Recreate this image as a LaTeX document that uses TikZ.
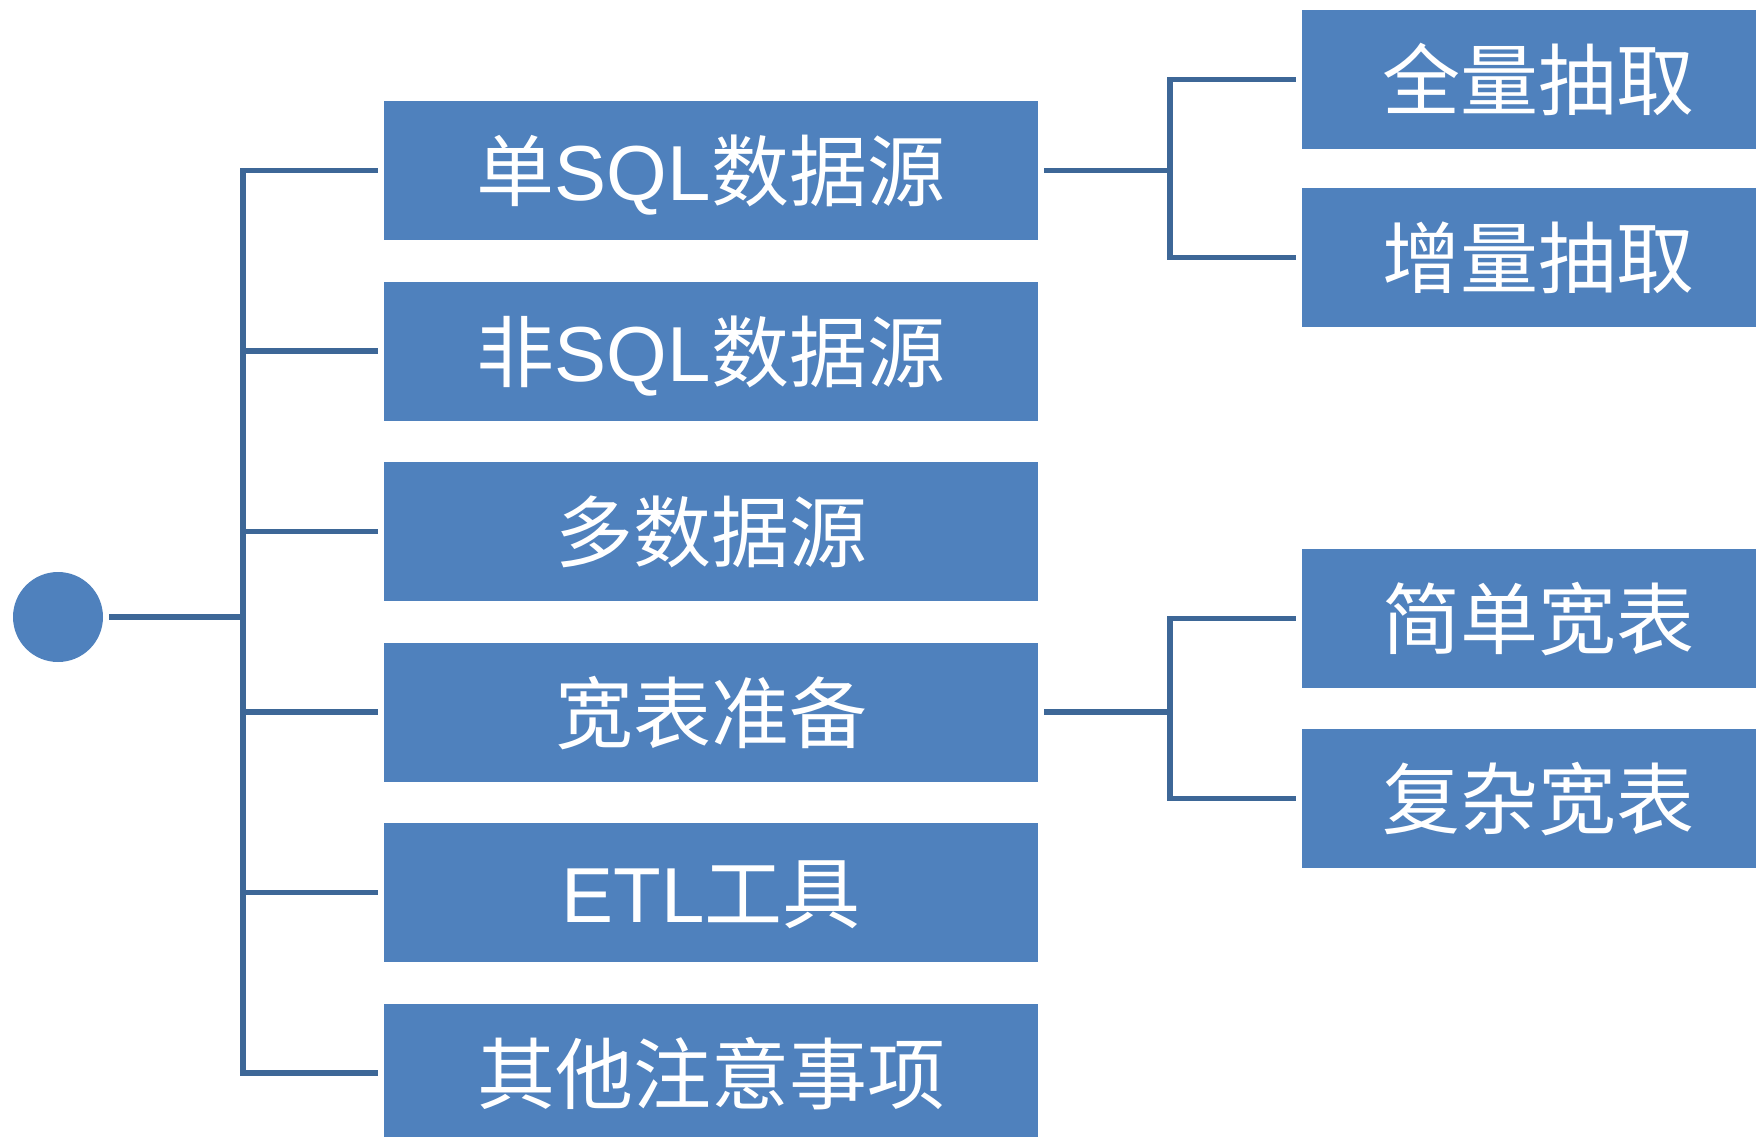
\documentclass[tikz,border=0pt]{standalone}
\usepackage{fontspec}
\newfontfamily\cjk{Noto Sans CJK SC}
\newfontfamily\latfont{Liberation Sans}
\newcommand\lat[1]{{\latfont #1}}
\definecolor{boxblue}{HTML}{4F81BD}
\definecolor{lineblue}{HTML}{3D6797}
\begin{document}
\begin{tikzpicture}[x=1pt,y=-1pt,
  box/.style={rectangle, fill=boxblue, inner sep=0pt, minimum height=139pt,
    text=white, font=\cjk\fontsize{78}{78}\selectfont, text height=65pt, text depth=5pt},
  lbox/.style={box, minimum width=654pt},
  rbox/.style={box, minimum width=472pt},
  conn/.style={draw=lineblue, line width=5.5pt, shorten <=6pt, shorten >=6pt}]
\useasboundingbox (0,0) rectangle (1756,1137);
\node[circle, fill=boxblue, minimum size=90pt, inner sep=0pt] (root) at (58,617) {};
\node[lbox] (b1) at (711,170.5) {单\lat{SQL}数据源};
\node[lbox] (b2) at (711,351) {非\lat{SQL}数据源};
\node[lbox] (b3) at (711,531.5) {多数据源};
\node[lbox] (b4) at (711,712) {宽表准备};
\node[lbox] (b5) at (711,892.5) {\lat{ETL}工具};
\node[lbox] (b6) at (711,1073) {其他注意事项};
\node[rbox] (r1) at (1538,79.5) {全量抽取};
\node[rbox] (r2) at (1538,257.5) {增量抽取};
\node[rbox] (r3) at (1538,618.5) {简单宽表};
\node[rbox] (r4) at (1538,798.5) {复杂宽表};
\coordinate (t) at (243,617);
\coordinate (j1) at (1170,170.5);
\coordinate (j2) at (1170,712);
\foreach \b in {b1,b2,b3,b4,b5,b6}
  \draw[conn] (root) -- (t) |- (\b);
\draw[conn] (b1) -- (j1) |- (r1);
\draw[conn] (b1) -- (j1) |- (r2);
\draw[conn] (b4) -- (j2) |- (r3);
\draw[conn] (b4) -- (j2) |- (r4);
\end{tikzpicture}
\end{document}
